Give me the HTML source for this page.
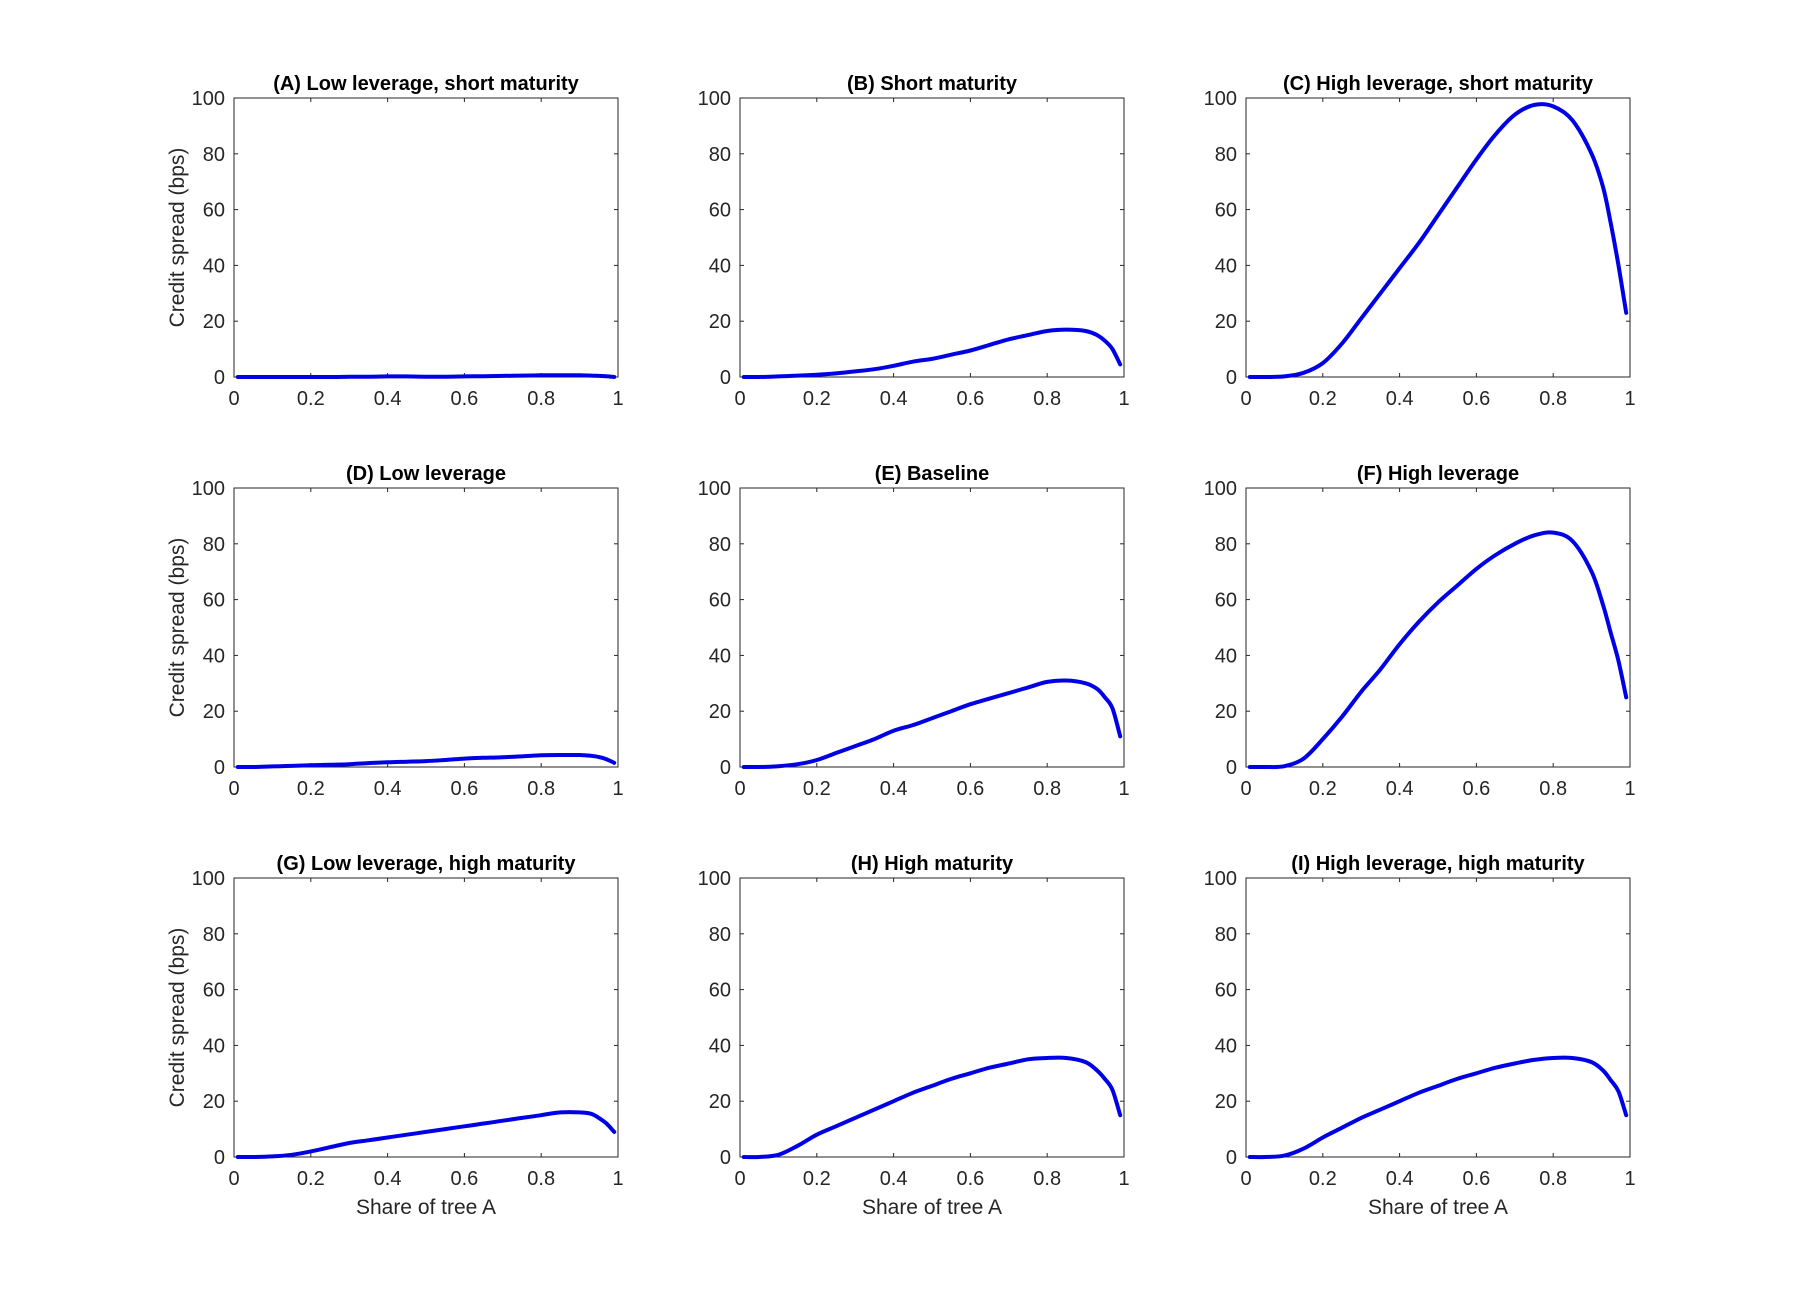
<!DOCTYPE html>
<html><head><meta charset="utf-8"><style>
html,body{margin:0;padding:0;background:#fff;}
svg text{font-family:"Liberation Sans",Arial,sans-serif;}
</style></head><body>
<svg id="fig" width="1800" height="1300" viewBox="0 0 1800 1300" xmlns="http://www.w3.org/2000/svg"></svg>
<script>
const xs = [0.01,0.05,0.1,0.15,0.2,0.25,0.3,0.35,0.4,0.45,0.5,0.55,0.6,0.65,0.7,0.75,0.8,0.85,0.9,0.93,0.95,0.97,0.99];
const titles = ["(A) Low leverage, short maturity","(B) Short maturity","(C) High leverage, short maturity","(D) Low leverage","(E) Baseline","(F) High leverage","(G) Low leverage, high maturity","(H) High maturity","(I) High leverage, high maturity"];
const seriesA = [0,0,0,0,0,0,0.1,0.1,0.2,0.2,0.1,0.1,0.2,0.3,0.4,0.5,0.6,0.6,0.6,0.5,0.4,0.3,0];
const seriesB = [0,0,0.2,0.5,0.8,1.3,2,2.8,4,5.5,6.5,8,9.5,11.5,13.5,15,16.5,17,16.5,15,13,10,4.5];
const seriesC = [0,0,0.2,1.5,5,12,21,30,39,48,58,68,78,87,94,97.5,97,92,80,68,55,40,23];
const seriesD = [0,0,0.2,0.4,0.6,0.8,1,1.4,1.7,1.9,2.1,2.5,3,3.3,3.5,3.8,4.2,4.3,4.3,4,3.6,2.8,1.5];
const seriesE = [0,0,0.3,1,2.5,5,7.5,10,13,15,17.5,20,22.5,24.5,26.5,28.5,30.5,31,30,28,25,21,11];
const seriesF = [0,0,0.3,3,10,18,27,35,44,52,59,65,71,76,80,83,84,81,70,58,48,38,25];
const seriesG = [0,0,0.2,0.8,2,3.5,5,6,7,8,9,10,11,12,13,14,15,16,16,15.5,14,12,9];
const seriesH = [0,0,0.8,4,8,11,14,17,20,23,25.5,28,30,32,33.5,35,35.5,35.5,34,31,28,24,15];
const seriesI = [0,0,0.5,3,7,10.5,14,17,20,23,25.5,28,30,32,33.5,34.8,35.5,35.5,34,31,27.5,23.5,15];
const xTicks = [0,0.2,0.4,0.6,0.8,1];
const xTickLabels = ["0","0.2","0.4","0.6","0.8","1"];
const yTicks = [0,20,40,60,80,100];
const yTickLabels = ["0","20","40","60","80","100"];
const allSeries = [seriesA,seriesB,seriesC,seriesD,seriesE,seriesF,seriesG,seriesH,seriesI];

const NS = "http://www.w3.org/2000/svg";
const svg = document.getElementById('fig');
const colX = [234,740,1246], rowY = [98,488,878], W = 384, H = 279;
function mk(tag, attrs, parent){ const e=document.createElementNS(NS,tag); for(const k in attrs) e.setAttribute(k,attrs[k]); parent.appendChild(e); return e; }
function smooth(pts){
  let d = 'M'+pts[0][0].toFixed(1)+','+pts[0][1].toFixed(1);
  for(let i=0;i<pts.length-1;i++){
    const p0=pts[Math.max(0,i-1)], p1=pts[i], p2=pts[i+1], p3=pts[Math.min(pts.length-1,i+2)];
    const c1=[p1[0]+(p2[0]-p0[0])/6, p1[1]+(p2[1]-p0[1])/6];
    const c2=[p2[0]-(p3[0]-p1[0])/6, p2[1]-(p3[1]-p1[1])/6];
    d += ' C'+c1[0].toFixed(1)+','+c1[1].toFixed(1)+' '+c2[0].toFixed(1)+','+c2[1].toFixed(1)+' '+p2[0].toFixed(1)+','+p2[1].toFixed(1);
  }
  return d;
}
const letters = "abcdefghi";
for(let p=0;p<9;p++){
  const L = colX[p%3], T = rowY[Math.floor(p/3)];
  const sx = v => L + v*W;
  const sy = v => T + H - (v/100)*H;
  const g = mk('g',{},svg);
  
  
  const box = mk('rect',{x:L,y:T,width:W,height:H,fill:'#fff',stroke:'#262626','stroke-width':1},g);
  
  
  xTicks.forEach((t,i)=>{
    const x=sx(t);
    mk('line',{x1:x,y1:T+H,x2:x,y2:T+H-4,stroke:'#262626'},g);
    mk('line',{x1:x,y1:T,x2:x,y2:T+4,stroke:'#262626'},g);
    const tx = mk('text',{x:x,y:T+H+28,'text-anchor':'middle','font-size':20,fill:'#262626'},g);
    tx.textContent = xTickLabels[i];
    
    
  });
  yTicks.forEach((t,i)=>{
    const y=sy(t);
    mk('line',{x1:L,y1:y,x2:L+4,y2:y,stroke:'#262626'},g);
    mk('line',{x1:L+W,y1:y,x2:L+W-4,y2:y,stroke:'#262626'},g);
    const ty = mk('text',{x:L-9,y:y+7,'text-anchor':'end','font-size':20,fill:'#262626'},g);
    ty.textContent = yTickLabels[i];
    
    
  });
  const tt = mk('text',{x:L+W/2,y:T-8,'text-anchor':'middle','font-size':20,'font-weight':'bold',fill:'#000'},g);
  tt.textContent = titles[p];
  
  
  if(p%3===0){
    const yl = mk('text',{x:0,y:0,'text-anchor':'middle','font-size':21,fill:'#262626',transform:`translate(${L-50},${T+H/2}) rotate(-90)`},g);
    yl.textContent = "Credit spread (bps)";
    
    
  }
  if(p>=6){
    const xl = mk('text',{x:L+W/2,y:T+H+57,'text-anchor':'middle','font-size':21,fill:'#262626'},g);
    xl.textContent = "Share of tree A";
    
    
  }
  const pts = allSeries[p].map((v,i)=>[sx(xs[i]), sy(v)]);
  const path = mk('path',{d:smooth(pts),fill:'none',stroke:'#0000e6','stroke-width':4,'stroke-linejoin':'round','stroke-linecap':'round'},g);
  
  
}
</script>
</body></html>
